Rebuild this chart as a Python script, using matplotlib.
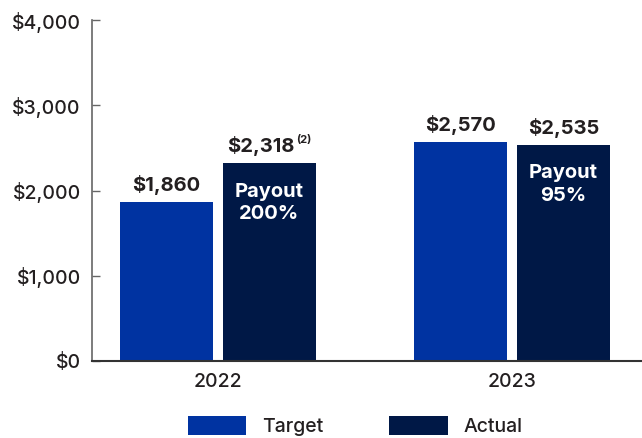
import numpy as np
import matplotlib.pyplot as plt
from matplotlib.ticker import FuncFormatter

years = ['2022', '2023']
target = [1860, 2570]
actual = [2318, 2535]
payout = ['200%', '95%']

plt.rcParams['font.family'] = ['Inter', 'DejaVu Sans']

fig = plt.figure(figsize=(6.42, 4.38), dpi=100)
ax = fig.add_axes([0.1433, 0.1758, 0.8567, 0.7785])

x = np.arange(len(years))
w = 0.316
off = 0.175
b1 = ax.bar(x - off, target, w, color='#0033a1', label='Target')
b2 = ax.bar(x + off, actual, w, color='#001846', label='Actual')

# value labels on top of bars
for i in range(len(years)):
    ax.annotate(f'\\${target[i]:,}', (x[i] - off, target[i]), xytext=(0, 5),
                textcoords='offset points', ha='center', va='bottom',
                fontsize=14.5, fontweight='bold', color='#231f20')
    lbl_dx = -6 if i == 0 else 0
    ax.annotate(f'\\${actual[i]:,}', (x[i] + off, actual[i]), xytext=(lbl_dx, 5),
                textcoords='offset points', ha='center', va='bottom',
                fontsize=14.5, fontweight='bold', color='#231f20')
    ax.annotate(f'Payout\n{payout[i]}', (x[i] + off, actual[i]), xytext=(0, -14),
                textcoords='offset points', ha='center', va='top',
                fontsize=14.5, fontweight='bold', color='white', linespacing=1.3)

# footnote marker on the 2022 actual
ax.annotate('(2)', (x[0] + off, actual[0]), xytext=(19.5, 13),
            textcoords='offset points', ha='left', va='bottom',
            fontsize=8, fontweight='bold', color='#231f20')

ax.set_ylim(0, 4000)
ax.set_xlim(-0.4286, 1.442)
ax.set_yticks([0, 1000, 2000, 3000, 4000])
ax.yaxis.set_major_formatter(FuncFormatter(lambda v, p: f'\\${v:,.0f}'))
ax.set_xticks(x)
ax.set_xticklabels(years)

ax.spines['top'].set_visible(False)
ax.spines['right'].set_visible(False)
ax.spines['left'].set_color('#666666')
ax.spines['left'].set_linewidth(1.2)
ax.spines['bottom'].set_color('#333333')
ax.spines['bottom'].set_linewidth(1.5)

ax.tick_params(axis='y', direction='in', length=6, width=1, color='#666666',
               labelsize=14, labelcolor='#231f20', pad=8)
ax.tick_params(axis='x', length=0, labelsize=14, labelcolor='#231f20', pad=9)
for t in ax.get_xticklabels() + ax.get_yticklabels():
    t.set_fontweight('medium')

fig.legend(handles=[b1, b2], loc='lower center', bbox_to_anchor=(0.553, -0.035),
           ncol=2, frameon=False, handlelength=3.0, handleheight=1.1,
           columnspacing=3.4, handletextpad=0.8, labelcolor='#231f20',
           prop={'weight': 'medium', 'size': 14})

fig.savefig('out.png', dpi=100)
